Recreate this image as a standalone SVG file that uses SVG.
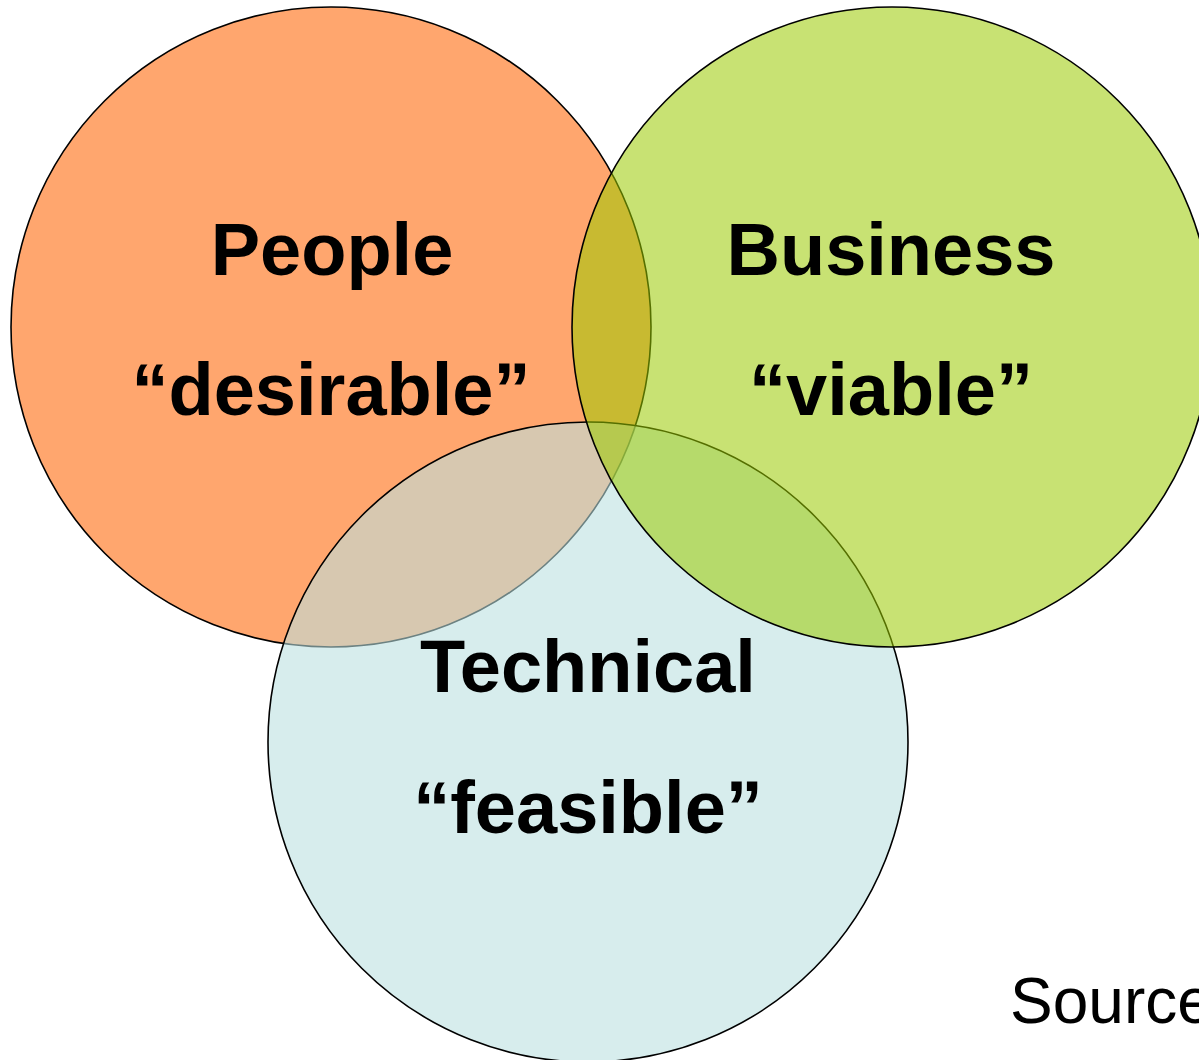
<svg xmlns="http://www.w3.org/2000/svg" width="1199" height="1060" viewBox="0 0 1199 1060">
<style>
.c{stroke:#000;stroke-width:1.6}
.t{font-family:"Liberation Sans",Arial,sans-serif;font-weight:bold;font-size:74px;text-anchor:middle;fill:#000}
.s{font-family:"Liberation Sans",Arial,sans-serif;font-size:64px;fill:#000}
</style>
<rect width="1199" height="1060" fill="#fff"/>
<g id="people"><circle class="c" cx="331" cy="327" r="320" fill="#FFA66E"/></g>
<g id="technical"><circle class="c" cx="588" cy="742" r="320" fill="#BAE0E0" fill-opacity="0.58"/></g>
<g id="business"><circle class="c" cx="892" cy="327" r="320" fill="#9BCA00" fill-opacity="0.55"/></g>
<g id="connectors"></g>
<g id="labels">
<text class="t" x="332" y="275">People</text>
<text class="t" x="331" y="415">“desirable”</text>
<text class="t" x="891" y="275">Business</text>
<text class="t" x="891" y="415">“viable”</text>
<text class="t" x="588" y="692">Technical</text>
<text class="t" x="588" y="833">“feasible”</text>
<text class="s" x="1010" y="1023">Source</text>
</g>
</svg>
